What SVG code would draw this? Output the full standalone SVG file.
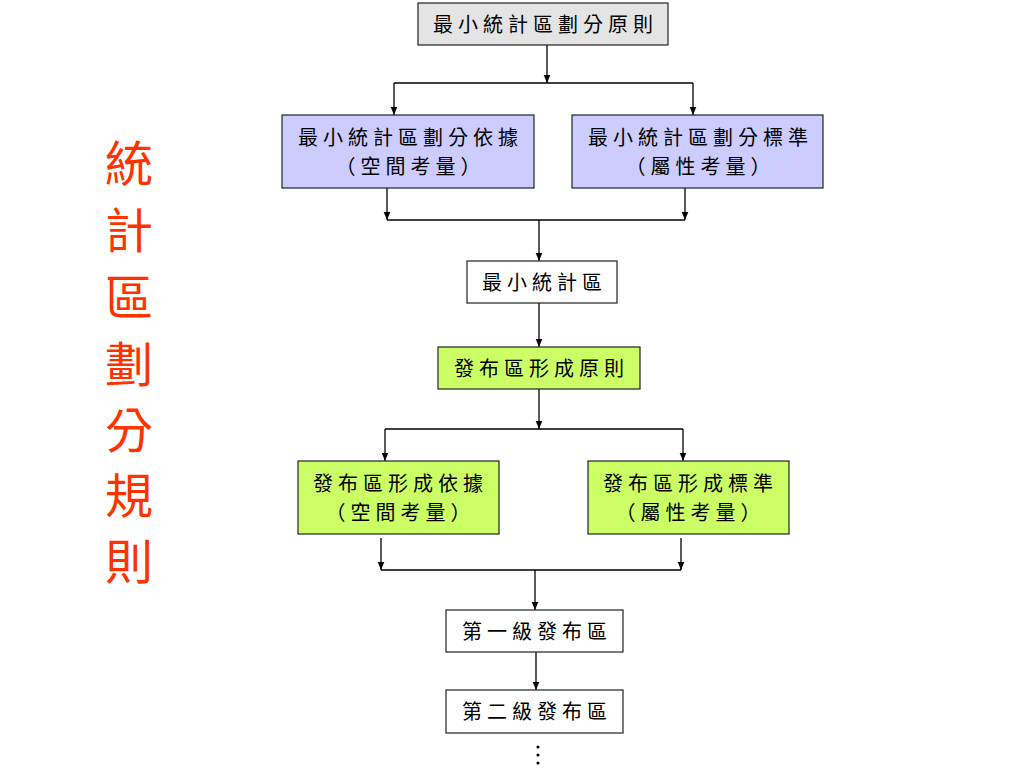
<svg xmlns="http://www.w3.org/2000/svg" width="1024" height="768" viewBox="0 0 1024 768">
<defs>
<marker id="ah" markerUnits="userSpaceOnUse" markerWidth="9" markerHeight="8" refX="8.5" refY="4" orient="auto">
<path d="M0,0.5 L8.5,4 L0,7.5 z" fill="#000"/>
</marker>
</defs>
<style>
.box{stroke:#222;stroke-width:1.2}
.gray{fill:#E4E4E4}
.blue{fill:#CCCCFF}
.green{fill:#CCFF66}
.white{fill:#FFFFFF}
.t{font-family:"Noto Sans CJK TC","Noto Sans CJK SC",sans-serif;font-size:20px;letter-spacing:5px;fill:#000;text-anchor:middle}
.title{font-family:"Noto Sans CJK TC","Noto Sans CJK SC",sans-serif;font-size:48px;fill:#FF3300;text-anchor:middle}
.c{fill:none;stroke:#000;stroke-width:1.3}
.a{marker-end:url(#ah)}
</style>
<rect width="1024" height="768" fill="#FFFFFF"/>
<g id="title">
<text class="title" x="129" y="181">統</text>
<text class="title" x="129" y="248">計</text>
<text class="title" x="129" y="315">區</text>
<text class="title" x="129" y="382">劃</text>
<text class="title" x="129" y="448">分</text>
<text class="title" x="129" y="513">規</text>
<text class="title" x="129" y="579">則</text>
</g>
<g id="connectors">
<path class="c a" d="M547,45 V83"/>
<path class="c" d="M394,83 H693"/>
<path class="c a" d="M394,83 V115"/>
<path class="c a" d="M693,83 V115"/>
<path class="c a" d="M387,188 V220"/>
<path class="c a" d="M685,188 V220"/>
<path class="c" d="M387,220 H685"/>
<path class="c a" d="M539,220 V261"/>
<path class="c a" d="M539,303 V347"/>
<path class="c a" d="M539,389 V429"/>
<path class="c" d="M385,429 H683"/>
<path class="c a" d="M385,429 V461"/>
<path class="c a" d="M683,429 V461"/>
<path class="c a" d="M381,538 V570"/>
<path class="c a" d="M681,538 V570"/>
<path class="c" d="M381,570 H681"/>
<path class="c a" d="M535,570 V610"/>
<path class="c a" d="M536,652 V690"/>
</g>
<g id="n1">
<rect class="box gray" x="418" y="3" width="250" height="42"/>
<text class="t" x="545.5" y="31.6">最小統計區劃分原則</text>
</g>
<g id="n2">
<rect class="box blue" x="282" y="115" width="252" height="73"/>
<text class="t" x="410.5" y="145">最小統計區劃分依據<tspan x="410.5" dy="29">（空間考量）</tspan></text>
</g>
<g id="n3">
<rect class="box blue" x="572" y="115" width="251" height="73"/>
<text class="t" x="700.5" y="145">最小統計區劃分標準<tspan x="700.5" dy="29">（屬性考量）</tspan></text>
</g>
<g id="n4">
<rect class="box white" x="467" y="261" width="150" height="42"/>
<text class="t" x="544.5" y="289.6">最小統計區</text>
</g>
<g id="n5">
<rect class="box green" x="438" y="347" width="202" height="42"/>
<text class="t" x="541.5" y="375.6">發布區形成原則</text>
</g>
<g id="n6">
<rect class="box green" x="298" y="461" width="201" height="73"/>
<text class="t" x="400.5" y="491">發布區形成依據<tspan x="400.5" dy="29">（空間考量）</tspan></text>
</g>
<g id="n7">
<rect class="box green" x="588" y="461" width="201" height="73"/>
<text class="t" x="690.5" y="491">發布區形成標準<tspan x="690.5" dy="29">（屬性考量）</tspan></text>
</g>
<g id="n8">
<rect class="box white" x="446" y="610" width="177" height="42"/>
<text class="t" x="537" y="638.6">第一級發布區</text>
</g>
<g id="n9">
<rect class="box white" x="446" y="690" width="177" height="43"/>
<text class="t" x="537" y="719">第二級發布區</text>
</g>
<g id="more">
<circle cx="538" cy="747" r="1.6" fill="#000"/>
<circle cx="538" cy="755" r="1.6" fill="#000"/>
<circle cx="538" cy="763" r="1.6" fill="#000"/>
</g>
</svg>
